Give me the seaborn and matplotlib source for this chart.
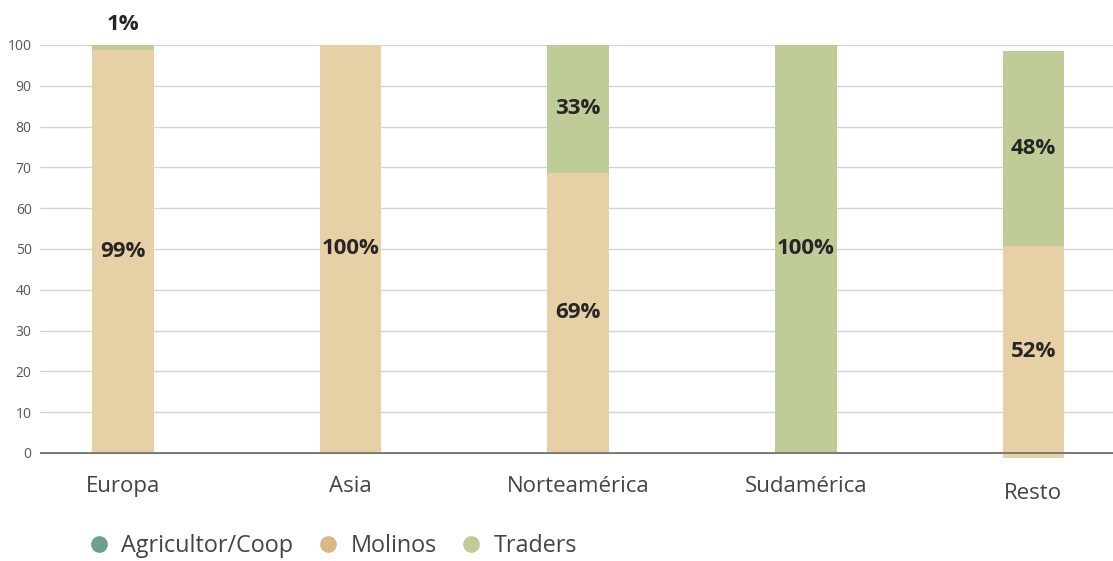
import numpy as np
import pandas as pd
import matplotlib
matplotlib.use("Agg")
import matplotlib.pyplot as plt
import seaborn as sns
from matplotlib.lines import Line2D

# data
regions = ["Europa", "Asia", "Norteamérica", "Sudamérica", "Resto"]
agricultor = [0.0, 0.0, 0.0, 0.0, -1.2]
molinos = [98.7, 100.0, 68.7, 0.0, 51.9]
traders = [1.3, 0.0, 31.3, 100.0, 47.8]
molinos_labels = ["99%", "100%", "69%", "", "52%"]
traders_labels = ["1%", "", "33%", "100%", "48%"]

series_names = ["Agricultor/Coop", "Molinos", "Traders"]
bar_colors = ["#6E9E8E", "#E7CFA6", "#BFCC97"]
legend_colors = ["#6E9E8E", "#D9B787", "#BFCC97"]

sns.set_style("white")
plt.rcParams["font.family"] = ["Open Sans", "DejaVu Sans"]

df = pd.DataFrame({"region": regions, "Agricultor/Coop": agricultor,
                   "Molinos": molinos, "Traders": traders})

fig = plt.figure(figsize=(11.13, 5.61), dpi=100)
ax = fig.add_axes([40 / 1113, 0.1818, 1 - 40 / 1113, 0.738])

bottom = np.zeros(len(regions))
seg_bottoms = {}
for name, col in zip(series_names, bar_colors):
    sns.barplot(data=df, x="region", y=name, color=col, width=0.27,
                bottom=bottom, ax=ax, saturation=1, edgecolor="none",
                zorder=2)
    seg_bottoms[name] = bottom.copy()
    bottom = bottom + df[name].values

# segment labels
for i in range(len(regions)):
    if molinos_labels[i]:
        mid = seg_bottoms["Molinos"][i] + molinos[i] / 2
        ax.text(i, mid, molinos_labels[i], ha="center", va="center",
                fontsize=16, fontweight="bold", color="#262626", zorder=4)
    if traders_labels[i]:
        if traders[i] < 5:
            y = seg_bottoms["Traders"][i] + traders[i] + 2.5
            va = "bottom"
        else:
            y = seg_bottoms["Traders"][i] + traders[i] / 2
            va = "center"
        ax.text(i, y, traders_labels[i], ha="center", va=va,
                fontsize=16, fontweight="bold", color="#262626", zorder=4)

ax.set_xlim(-0.365, 4.35)
ax.set_ylim(-1.5, 100)
ax.set_yticks(range(0, 101, 10))
ax.yaxis.grid(True, color="#d3d3d3", linewidth=1, zorder=0)
ax.set_axisbelow(True)
ax.axhline(0, color="#7a7a7a", linewidth=1.4, zorder=3)
for s in ax.spines.values():
    s.set_visible(False)
ax.set_xlabel("")
ax.set_ylabel("")
ax.tick_params(axis="y", length=0, pad=6, labelsize=10, labelcolor="#555555")
ax.tick_params(axis="x", length=0, pad=12, labelsize=16, labelcolor="#444444")
ax.xaxis.get_major_ticks()[4].set_pad(17)

handles = [Line2D([0], [0], marker="o", linestyle="", markersize=11,
                  markerfacecolor=c, markeredgecolor=c) for c in legend_colors]
leg = fig.legend(handles, series_names, loc="center left",
                 bbox_to_anchor=(0.068, 1 - 546 / 561), ncol=3, frameon=False,
                 fontsize=16.8, handletextpad=0.45, columnspacing=1.0,
                 labelcolor="#444444", borderpad=0, handlelength=1.0)

fig.savefig("out.png", dpi=100)
